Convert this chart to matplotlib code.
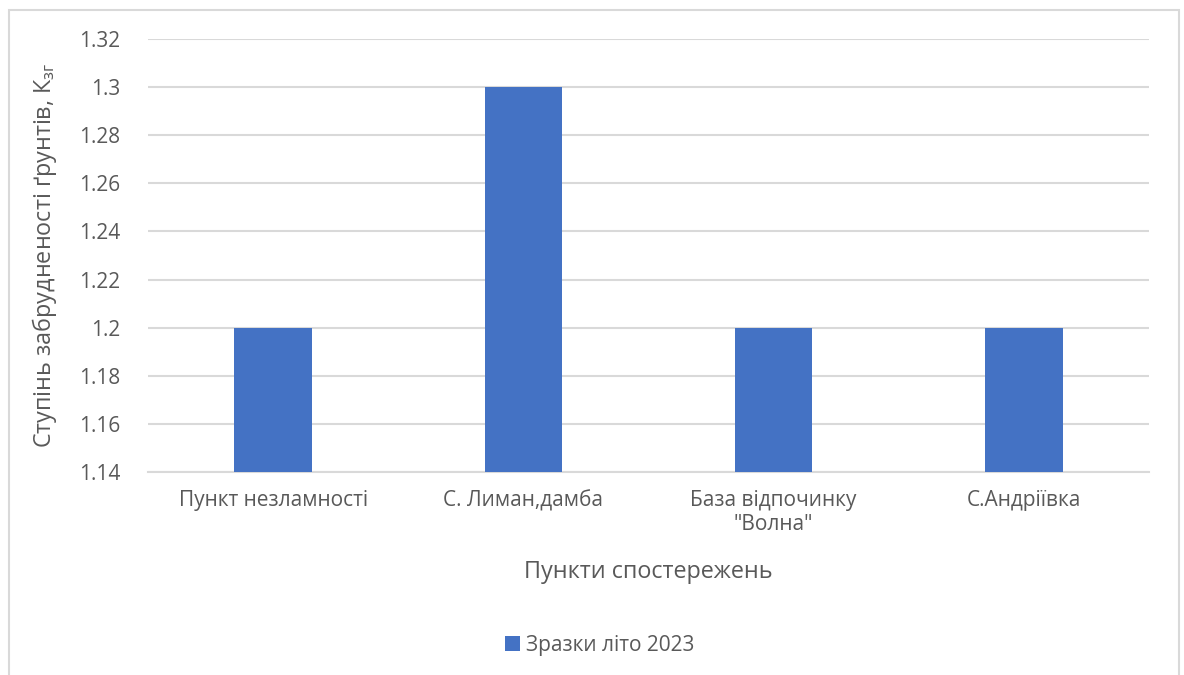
import matplotlib.pyplot as plt
from matplotlib.patches import Rectangle

plt.rcParams['font.family'] = ['Open Sans', 'DejaVu Sans']
plt.rcParams['mathtext.fontset'] = 'custom'
plt.rcParams['mathtext.rm'] = 'Open Sans'

categories = ['Пункт незламності', 'С. Лиман,дамба', 'База відпочинку\n"Волна"', 'С.Андріївка']
values = [1.2, 1.3, 1.2, 1.2]
yticks = [1.14, 1.16, 1.18, 1.20, 1.22, 1.24, 1.26, 1.28, 1.30, 1.32]
ytick_labels = ['1.14', '1.16', '1.18', '1.2', '1.22', '1.24', '1.26', '1.28', '1.3', '1.32']
series_name = 'Зразки літо 2023'

text_color = '#595959'
bar_color = '#4472c4'
grid_color = '#d9d9d9'

W, H = 1184, 675
fig = plt.figure(figsize=(W / 100, H / 100), dpi=100)
ax = fig.add_axes([148 / W, 1 - 472 / H, (1149 - 148) / W, (472 - 39) / H])

# chart frame
fig.patches.append(Rectangle((9 / W, -0.05), (1179 - 9) / W, 1.05 - 10 / H,
                             transform=fig.transFigure, fill=False,
                             edgecolor=grid_color, lw=1.5))

x = range(len(categories))
ax.bar(x, values, width=0.31, color=bar_color, label=series_name, zorder=3)
ax.set_xlim(-0.5, len(categories) - 0.5)
ax.set_ylim(1.14, 1.32)
ax.set_yticks(yticks)
ax.set_yticklabels(ytick_labels)
ax.set_xticks(list(x))
ax.set_xticklabels(categories)
ax.yaxis.grid(True, color=grid_color, lw=1.5, zorder=0)
ax.set_axisbelow(True)
for s in ['top', 'right', 'left']:
    ax.spines[s].set_visible(False)
ax.spines['bottom'].set_color(grid_color)
ax.spines['bottom'].set_linewidth(1.5)
ax.tick_params(axis='both', length=0, colors=text_color, labelsize=15)
ax.tick_params(axis='y', pad=20)
ax.tick_params(axis='x', pad=13)

ax.set_xlabel('Пункти спостережень', fontsize=16.8, color=text_color, labelpad=18)
ax.set_ylabel('Ступінь забрудненості ґрунтів, К$_{\\mathrm{зг}}$', fontsize=16.8,
              color=text_color, labelpad=14)

leg = fig.legend(loc='center', bbox_to_anchor=(600 / W, 1 - 645 / H), frameon=False,
                 fontsize=15, handlelength=0.7, handleheight=0.7, handletextpad=0.3)
for t in leg.get_texts():
    t.set_color(text_color)

fig.savefig('out.png', dpi=100)
